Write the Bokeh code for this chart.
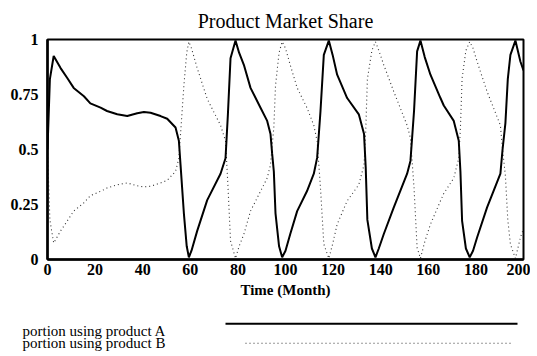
from bokeh.plotting import figure
from bokeh.models import Range1d, FixedTicker
from bokeh.layouts import column
from bokeh.core.properties import value
from bokeh.embed import file_html
from bokeh.resources import INLINE

# --- data ---
time = [0, 1.0, 2.6, 5.5, 8.3, 11, 15.3, 18, 22.3, 25, 29.3, 33.5, 37.7, 40.5, 43.3,
        47.5, 50.3, 53.8, 55.2, 55.9, 57.3, 58.5, 59.4, 60.5, 62.9, 67.1, 72.7, 74.8,
        75.8, 76.9, 79.0, 80.5, 82.5, 85.3, 89.5, 92.3, 93.7, 94.4, 95.1, 95.8, 97.3,
        98.6, 100, 102, 104.9, 109, 111.9, 113.3, 114.7, 116.1, 118.2, 119.8, 121.7,
        125.9, 130.8, 133.0, 133.7, 134.4, 136.3, 137.8, 139.2, 141.3, 145.5, 151.1,
        152.5, 154.0, 155.3, 156.7, 158.5, 160.9, 165.1, 166.5, 170.7, 172.8, 173.5,
        174.2, 175.8, 177.4, 178.8, 180.5, 184.7, 190.3, 191.2, 192.4, 193.4, 194.5,
        196.6, 198.7, 200]
share_a = [0.50, 0.82, 0.925, 0.87, 0.825, 0.78, 0.742, 0.71, 0.69, 0.675, 0.66, 0.652,
           0.665, 0.67, 0.667, 0.652, 0.64, 0.60, 0.54, 0.43, 0.21, 0.06, 0.01, 0.04,
           0.13, 0.27, 0.39, 0.46, 0.66, 0.915, 0.995, 0.94, 0.885, 0.78, 0.69, 0.63,
           0.57, 0.48, 0.40, 0.21, 0.06, 0.01, 0.04, 0.116, 0.22, 0.31, 0.39, 0.463,
           0.674, 0.93, 0.995, 0.93, 0.84, 0.734, 0.66, 0.57, 0.42, 0.18, 0.05, 0.01,
           0.05, 0.116, 0.237, 0.39, 0.448, 0.674, 0.946, 0.995, 0.92, 0.84, 0.734,
           0.70, 0.63, 0.54, 0.40, 0.176, 0.05, 0.01, 0.04, 0.10, 0.237, 0.39, 0.50,
           0.62, 0.82, 0.93, 0.995, 0.90, 0.86]
share_b = [0.50, 0.18, 0.075, 0.13, 0.175, 0.22, 0.258, 0.29, 0.31, 0.325, 0.34, 0.348,
           0.335, 0.33, 0.333, 0.348, 0.36, 0.40, 0.46, 0.57, 0.79, 0.94, 0.99, 0.96,
           0.87, 0.73, 0.61, 0.54, 0.34, 0.085, 0.005, 0.06, 0.115, 0.22, 0.31, 0.37,
           0.43, 0.52, 0.60, 0.79, 0.94, 0.99, 0.96, 0.884, 0.78, 0.69, 0.61, 0.537,
           0.326, 0.07, 0.005, 0.07, 0.16, 0.266, 0.34, 0.43, 0.58, 0.82, 0.95, 0.99,
           0.95, 0.884, 0.763, 0.61, 0.552, 0.326, 0.054, 0.005, 0.08, 0.16, 0.266,
           0.30, 0.37, 0.46, 0.60, 0.824, 0.95, 0.99, 0.96, 0.90, 0.763, 0.61, 0.50,
           0.38, 0.18, 0.07, 0.005, 0.10, 0.14]
x_ticks = [0, 20, 40, 60, 80, 100, 120, 140, 160, 180, 200]
y_ticks = [0, 0.25, 0.5, 0.75, 1]
y_tick_labels = ["0", "0.25", "0.5", "0.75", "1"]
series_names = ["portion using product A", "portion using product B"]

SERIF = "'Liberation Serif', 'Times New Roman', serif"

p = figure(width=530, height=308, output_backend="svg", toolbar_location=None,
           x_range=Range1d(0, 200), y_range=Range1d(0, 1),
           title="Product Market Share",
           min_border_left=47, min_border_right=7, min_border_top=38, min_border_bottom=49)
p.title.text_font = SERIF
p.title.text_font_size = "20px"
p.title.text_font_style = "normal"
p.title.align = "center"
p.title.text_color = "black"
p.title.standoff = 15

p.grid.visible = False
p.outline_line_color = "black"
p.outline_line_width = 2
p.background_fill_color = "white"
p.border_fill_color = "white"

for ax in (p.xaxis[0], p.yaxis[0]):
    ax.axis_line_width = 2.5
    ax.axis_line_color = "black"
    ax.major_tick_out = 0
    ax.major_tick_in = 0
    ax.minor_tick_out = 0
    ax.minor_tick_in = 0
    ax.major_label_text_font = SERIF
    ax.major_label_text_font_size = "16px"
    ax.major_label_text_font_style = "bold"
    ax.major_label_text_color = "black"

p.xaxis[0].ticker = FixedTicker(ticks=x_ticks)
p.xaxis[0].major_label_standoff = 4
p.xaxis[0].axis_label = "Time (Month)"
p.xaxis[0].axis_label_text_font = SERIF
p.xaxis[0].axis_label_text_font_size = "15px"
p.xaxis[0].axis_label_text_font_style = "bold"
p.xaxis[0].axis_label_text_color = "black"
p.xaxis[0].axis_label_standoff = 4

p.yaxis[0].ticker = FixedTicker(ticks=y_ticks)
p.yaxis[0].major_label_overrides = {t: s for t, s in zip(y_ticks, y_tick_labels)}
p.yaxis[0].major_label_standoff = 9

p.line(time, share_b, line_color="#333333", line_width=1.1, line_dash="1 3")
p.line(time, share_a, line_color="black", line_width=2)

# --- legend strip below the chart ---
leg = figure(width=530, height=44, output_backend="svg", toolbar_location=None,
             x_range=Range1d(0, 530), y_range=Range1d(44, 0),
             min_border=0, min_border_left=0, min_border_right=0,
             min_border_top=0, min_border_bottom=0)
if "frame_align" in leg.properties():
    leg.frame_align = False
leg.axis.visible = False
leg.grid.visible = False
leg.outline_line_color = None
leg.text(x=[22, 22], y=[22.5, 34.3], text=series_names,
         text_font=value(SERIF), text_font_size="15px", text_color="black",
         text_baseline="alphabetic", text_align="left")
leg.line([225, 517], [15.3, 15.3], line_color="black", line_width=2)
leg.line([245, 513], [34.7, 34.7], line_color="#333333", line_width=1.1, line_dash="1 3")

open("out.html", "w").write(file_html(column(p, leg), INLINE))
